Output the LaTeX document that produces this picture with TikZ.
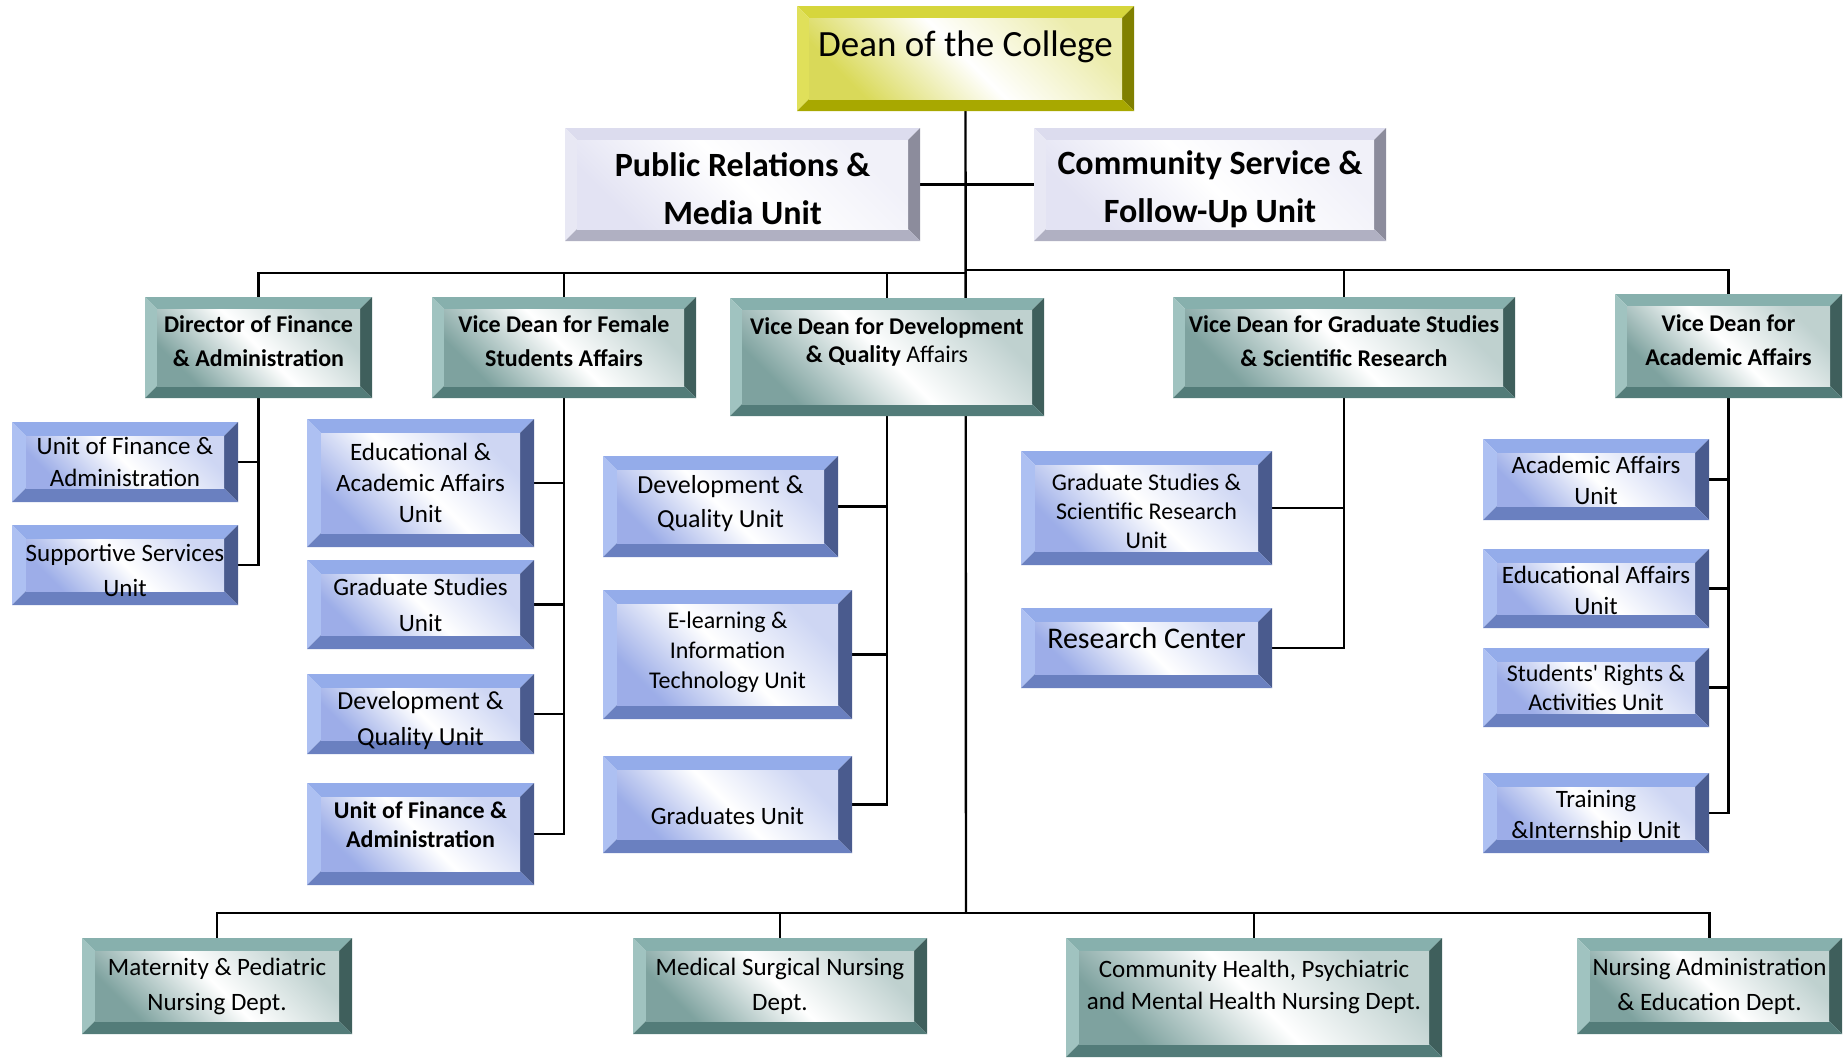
\documentclass[tikz,border=0pt]{standalone}
\usepackage{fontspec}
\setmainfont{Carlito}
\usetikzlibrary{backgrounds}
\definecolor{yF}{HTML}{D0D030}
\definecolor{yT}{HTML}{D6D63C}
\definecolor{yL}{HTML}{E0E05A}
\definecolor{yR}{HTML}{808000}
\definecolor{yB}{HTML}{A8A800}
\definecolor{gF}{HTML}{DCDCF0}
\definecolor{gT}{HTML}{DCDCEE}
\definecolor{gL}{HTML}{E8E8F4}
\definecolor{gR}{HTML}{8C8C9C}
\definecolor{gB}{HTML}{B0B0C2}
\definecolor{tF}{HTML}{5E8B87}
\definecolor{tT}{HTML}{87B0AD}
\definecolor{tL}{HTML}{A0C3C0}
\definecolor{tR}{HTML}{3F5F5C}
\definecolor{tB}{HTML}{537C79}
\definecolor{bF}{HTML}{8499E2}
\definecolor{bT}{HTML}{94ACEA}
\definecolor{bL}{HTML}{ADC0F2}
\definecolor{bR}{HTML}{4A5B8E}
\definecolor{bB}{HTML}{6A80C0}
\tikzset{
  bev/.store in=\bevd, bev=13pt,
  bevbox/.style n args={5}{fill=white, inner sep=0pt,
    path picture={
      \coordinate (bvA) at (path picture bounding box.north west);
      \coordinate (bvB) at (path picture bounding box.north east);
      \coordinate (bvC) at (path picture bounding box.south east);
      \coordinate (bvD) at (path picture bounding box.south west);
      \coordinate (bva) at ([shift={(\bevd,-\bevd)}]bvA);
      \coordinate (bvb) at ([shift={(-\bevd,-\bevd)}]bvB);
      \coordinate (bvc) at ([shift={(-\bevd,\bevd)}]bvC);
      \coordinate (bvd) at ([shift={(\bevd,\bevd)}]bvD);
      \fill[#2] (bvA) -- (bvB) -- (bvb) -- (bva) -- cycle;
      \fill[#3] (bvA) -- (bva) -- (bvd) -- (bvD) -- cycle;
      \fill[#4] (bvB) -- (bvC) -- (bvc) -- (bvb) -- cycle;
      \fill[#5] (bvD) -- (bvd) -- (bvc) -- (bvC) -- cycle;
      \shade[bottom color=#1!80!white, top color=#1!40!white, middle color=white, shading angle=-45] (bva) rectangle (bvc);
    }},
  ybox/.style={bevbox={yF}{yT}{yL}{yR}{yB}, bev=12pt},
  gbox/.style={bevbox={gF}{gT}{gL}{gR}{gB}, bev=12pt},
  tbox/.style={bevbox={tF}{tT}{tL}{tR}{tB}, bev=12pt},
  bbox/.style={bevbox={bF}{bT}{bL}{bR}{bB}, bev=14pt},
  wire/.style={line width=2.4pt},
  every label/.style={align=center, inner sep=0pt, text=black},
  tb/.style={font=\fontsize{24}{34}\selectfont\bfseries},
  bl/.style={font=\fontsize{25}{32}\selectfont},
}

\begin{document}
\begin{tikzpicture}[x=1pt, y=-1pt]
  \useasboundingbox (0,0) rectangle (1847,1058);
  % dean and staff units
  \node[ybox, minimum width=337, minimum height=105, label={[font=\fontsize{37}{42}\selectfont, yshift=12pt]center:{Dean of the College}}] (dean) at (965.5,58.5) {};
  \node[gbox, minimum width=355, minimum height=113, label={[font=\fontsize{34}{48}\selectfont\bfseries, yshift=-4pt]center:{Public Relations \&\\Media Unit}}] (pr) at (742.5,184.5) {};
  \node[gbox, minimum width=352, minimum height=113, label={[font=\fontsize{34}{48}\selectfont\bfseries, yshift=-5pt]center:{Community Service \&\\Follow-Up Unit}}] (cs) at (1210,184.5) {};

  % vice deans
  \node[tbox, minimum width=227, minimum height=101, label={[tb, yshift=6pt]center:{Director of Finance\\\& Administration}}] (dir) at (258.5,347.5) {};
  \node[tbox, minimum width=264, minimum height=101, label={[tb, yshift=6pt]center:{Vice Dean for Female\\Students Affairs}}] (vdf) at (564,347.5) {};
  \node[tbox, minimum width=314, minimum height=118, label={[tb, font=\fontsize{24}{28}\selectfont\bfseries, yshift=15pt]center:{Vice Dean for Development\\\& Quality {\mdseries Affairs}}}] (vdd) at (887,357) {};
  \node[tbox, minimum width=342, minimum height=101, label={[tb, yshift=6pt]center:{Vice Dean for Graduate Studies\\\& Scientific Research}}] (vdg) at (1344,347.5) {};
  \node[tbox, minimum width=227, minimum height=104, label={[tb, yshift=6pt]center:{Vice Dean for\\Academic Affairs}}] (vda) at (1728.5,346) {};

  % units
  \node[bbox, minimum width=226, minimum height=80, label={[bl]center:{Unit of Finance \&\\Administration}}] (uf1) at (125,462) {};
  \node[bbox, minimum width=226, minimum height=80, label={[bl, font=\fontsize{25}{35}\selectfont, yshift=-5pt]center:{Supportive Services\\Unit}}] (sup) at (125,565) {};
  \node[bbox, minimum width=227, minimum height=128, label={[bl, font=\fontsize{25}{31}\selectfont]center:{Educational \&\\Academic Affairs\\Unit}}] (edu) at (420.5,483) {};
  \node[bbox, minimum width=227, minimum height=89, label={[bl, font=\fontsize{25}{36}\selectfont]center:{Graduate Studies\\Unit}}] (gsu) at (420.5,604.5) {};
  \node[bbox, minimum width=227, minimum height=80, label={[bl, font=\fontsize{26}{36}\selectfont, yshift=-7pt]center:{Development \&\\Quality Unit}}] (dqf) at (420.5,714) {};
  \node[bbox, minimum width=227, minimum height=102, label={[bl, font=\fontsize{24}{29}\selectfont\bfseries, yshift=9pt]center:{Unit of Finance \&\\Administration}}] (uf2) at (420.5,834) {};
  \node[bbox, minimum width=235, minimum height=101, label={[bl, font=\fontsize{26}{34}\selectfont, yshift=3pt]center:{Development \&\\Quality Unit}}] (dqd) at (720.5,506.5) {};
  \node[bbox, minimum width=249, minimum height=129, label={[bl, font=\fontsize{24}{30}\selectfont, yshift=2pt]center:{E-learning \&\\Information\\Technology Unit}}] (elt) at (727.5,654.5) {};
  \node[bbox, minimum width=249, minimum height=97, label={[bl, yshift=-11pt]center:{Graduates Unit}}] (gru) at (727.5,804.5) {};
  \node[bbox, minimum width=251, minimum height=114, label={[bl, font=\fontsize{24}{29}\selectfont, yshift=-3pt]center:{Graduate Studies \&\\Scientific Research\\Unit}}] (gsr) at (1146.5,508) {};
  \node[bbox, minimum width=251, minimum height=80, label={[bl, font=\fontsize{30}{34}\selectfont, yshift=10pt]center:{Research Center}}] (rc) at (1146.5,648) {};
  \node[bbox, minimum width=226, minimum height=81, label={[bl, font=\fontsize{25}{31}\selectfont, yshift=-1pt]center:{Academic Affairs\\Unit}}] (aau) at (1596,479.5) {};
  \node[bbox, minimum width=226, minimum height=79, label={[bl, font=\fontsize{25}{31}\selectfont, yshift=-2pt]center:{Educational Affairs\\Unit}}] (eau) at (1596,588.5) {};
  \node[bbox, minimum width=226, minimum height=79, label={[bl, font=\fontsize{24}{29}\selectfont]center:{Students\textquotesingle{} Rights \&\\Activities Unit}}] (sra) at (1596,687.5) {};
  \node[bbox, minimum width=226, minimum height=80, label={[bl, font=\fontsize{25}{31}\selectfont, yshift=-3pt]center:{Training\\\&Internship Unit}}] (tiu) at (1596,813) {};

  % departments
  \node[tbox, bev=13pt, minimum width=270, minimum height=96, label={[bl, font=\fontsize{25}{35}\selectfont]center:{Maternity \& Pediatric\\Nursing Dept.}}] (mat) at (217,986) {};
  \node[tbox, bev=13pt, minimum width=294, minimum height=96, label={[bl, font=\fontsize{25}{35}\selectfont]center:{Medical Surgical Nursing\\Dept.}}] (med) at (780,986) {};
  \node[tbox, bev=13pt, minimum width=376, minimum height=119, label={[bl, yshift=11pt]center:{Community Health, Psychiatric\\and Mental Health Nursing Dept.}}] (com) at (1254,997.5) {};
  \node[tbox, bev=13pt, minimum width=265, minimum height=96, label={[bl, font=\fontsize{25}{35}\selectfont]center:{Nursing Administration\\\& Education Dept.}}] (nur) at (1709.5,986) {};

  % connectors
  \begin{scope}[on background layer]
    \coordinate (busL) at (966,273);
    \coordinate (busR) at (966,270);
    \coordinate (busB) at (966,913);
    \draw[wire] (dean.south) -- (busB);
    \draw[wire] (pr.east) -- (cs.west);
    \foreach \v in {dir,vdf,vdd} \draw[wire] (\v.north) |- (busL);
    \foreach \v in {vdg,vda} \draw[wire] (\v.north) |- (busR);
    \foreach \u in {uf1,sup} \draw[wire] (dir.south) |- (\u.east);
    \foreach \u in {edu,gsu,dqf,uf2} \draw[wire] (vdf.south) |- (\u.east);
    \foreach \u in {dqd,elt,gru} \draw[wire] (vdd.south) |- (\u.east);
    \foreach \u in {gsr,rc} \draw[wire] (vdg.south) |- (\u.east);
    \foreach \u in {aau,eau,sra,tiu} \draw[wire] (vda.south) |- (\u.east);
    \foreach \d in {mat,med,com,nur} \draw[wire] (\d.north) |- (busB);
  \end{scope}
\end{tikzpicture}
\end{document}
